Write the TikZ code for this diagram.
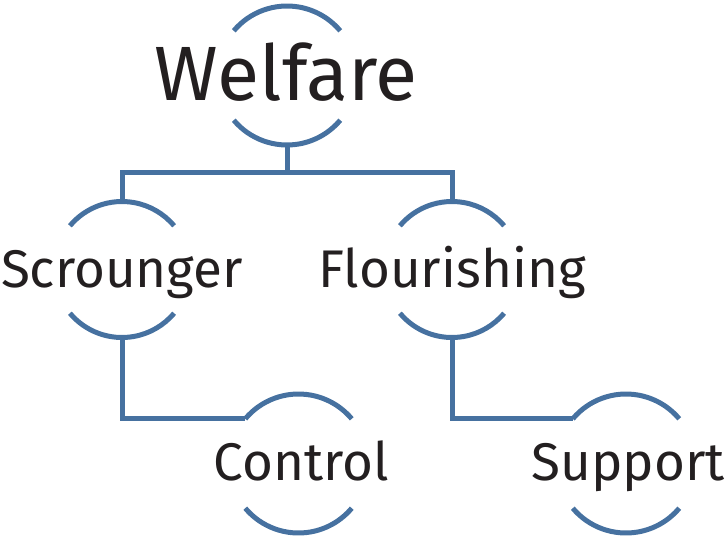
\documentclass[tikz,border=0pt]{standalone}
\usepackage{fontspec}
\setmainfont{Fira Sans}
\definecolor{lineblue}{RGB}{70,113,160}
\definecolor{textblack}{RGB}{35,31,32}
\begin{document}
\begin{tikzpicture}[x=1pt,y=-1pt,
  arcline/.style={draw=lineblue, line width=5pt},
  lbl/.style={anchor=base, inner sep=0pt, text=textblack},
  big/.style={font=\fontsize{77}{88}\selectfont},
  mid/.style={font=\fontsize{53}{62}\selectfont}]
\useasboundingbox (0,0) rectangle (727,541);
% centres
\coordinate (Wc) at (287,75.5);
\coordinate (Sc) at (122,269.5);
\coordinate (Fc) at (452,269.5);
\coordinate (Cc) at (298.5,463.5);
\coordinate (Pc) at (626,463.5);
% labels
\node[lbl, big] (W) at (286,100) {Welfare};
\node[lbl, mid] (S) at (122,287) {Scrounger};
\node[lbl, mid] (F) at (452,287) {Flourishing};
\node[lbl, mid] (C) at (301,480) {Control};
\node[lbl, mid] (P) at (628,480) {Support};
% arcs
\foreach \c/\r in {Wc/69.5, Sc/68, Fc/68, Cc/69.5, Pc/69.5}{
  \draw[arcline] (\c) ++(-140:\r) arc[start angle=-140, end angle=-40, radius=\r];
  \draw[arcline] (\c) ++(140:\r) arc[start angle=140, end angle=40, radius=\r];
}
% anchor points on the circles
\path (Wc) ++(90:69.5) coordinate (W-s);
\path (Sc) ++(-90:68) coordinate (S-n);
\path (Sc) ++(90:68) coordinate (S-s);
\path (Fc) ++(-90:68) coordinate (F-n);
\path (Fc) ++(90:68) coordinate (F-s);
\path (Cc) ++(-140:69.5) coordinate (C-w);
\path (Pc) ++(-140:69.5) coordinate (P-w);
\coordinate (J) at (287,172);
% connectors
\draw[arcline] (W-s) -- (J);
\draw[arcline] (S-n) |- (J) -| (F-n);
\draw[arcline] (S-s) |- (C-w);
\draw[arcline] (F-s) |- (P-w);
\end{tikzpicture}
\end{document}
